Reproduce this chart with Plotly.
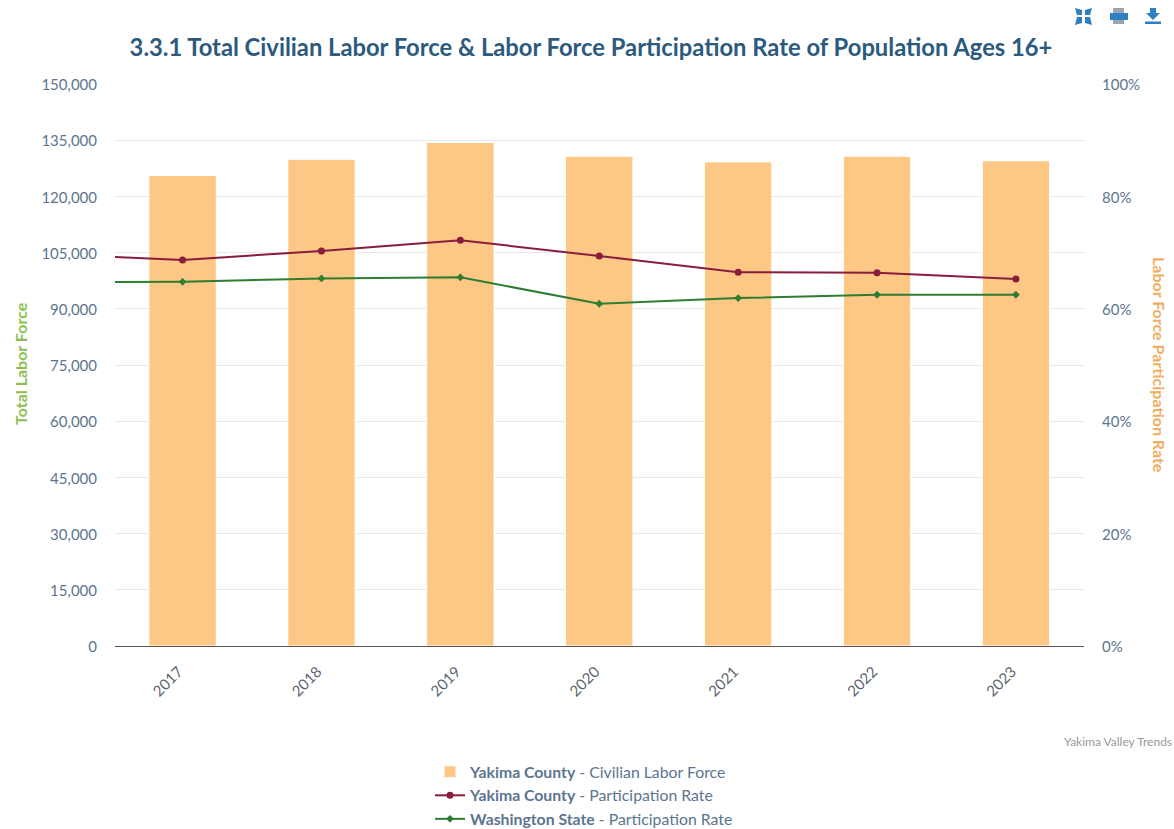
import plotly.graph_objects as go

years = [2017, 2018, 2019, 2020, 2021, 2022, 2023]
labor_force = [125600, 129900, 134400, 130700, 129200, 130700, 129500]
rate_years = [2016, 2017, 2018, 2019, 2020, 2021, 2022, 2023]
yakima_rate = [69.8, 68.7, 70.3, 72.2, 69.4, 66.5, 66.4, 65.3]
wa_rate = [64.7, 64.8, 65.4, 65.6, 60.9, 61.9, 62.5, 62.5]
left_ticks = list(range(0, 150001, 15000))
right_ticks = [0, 20, 40, 60, 80, 100]
right_labels = ["0%", "20%", "40%", "60%", "80%", "100%"]

FONT = "Lato"
TXT = "#5b7590"
W, H = 1174, 829
L, R, T, B = 115, 1084, 84, 646


def px(x):
    return (x - L) / (R - L)


def py(y):
    return (B - y) / (B - T)


fig = go.Figure()
fig.add_trace(go.Bar(
    x=years, y=labor_force, width=0.485, yaxis="y",
    marker=dict(color="#fdc785", line=dict(color="#ffffff", width=1)),
    name="<b>Yakima County</b> - Civilian Labor Force",
))
fig.add_trace(go.Scatter(
    x=rate_years, y=yakima_rate, yaxis="y2", mode="lines+markers",
    line=dict(color="#8a1c3c", width=2),
    marker=dict(symbol="circle", size=7, color="#8a1c3c"),
    name="<b>Yakima County</b> - Participation Rate",
))
fig.add_trace(go.Scatter(
    x=rate_years, y=wa_rate, yaxis="y2", mode="lines+markers",
    line=dict(color="#2e7d32", width=2),
    marker=dict(symbol="diamond", size=6, color="#2e7d32"),
    name="<b>Washington State</b> - Participation Rate",
))

icon = "#2f7fc1"
shapes = []
# download icon
shapes.append(dict(type="path", xref="paper", yref="paper",
    path=f"M {px(1150)} {py(8)} L {px(1156)} {py(8)} L {px(1156)} {py(13)} L {px(1160)} {py(13)} "
         f"L {px(1153)} {py(20)} L {px(1146)} {py(13)} L {px(1150)} {py(13)} Z",
    fillcolor=icon, line=dict(width=0)))
shapes.append(dict(type="rect", xref="paper", yref="paper", x0=px(1145), x1=px(1161), y0=py(21.5), y1=py(24),
    fillcolor=icon, line=dict(width=0)))
# print icon
shapes.append(dict(type="rect", xref="paper", yref="paper", x0=px(1113), x1=px(1124), y0=py(8), y1=py(13),
    fillcolor="#9aa5ad", line=dict(width=0)))
shapes.append(dict(type="rect", xref="paper", yref="paper", x0=px(1110), x1=px(1128), y0=py(13), y1=py(20),
    fillcolor=icon, line=dict(width=0)))
shapes.append(dict(type="rect", xref="paper", yref="paper", x0=px(1113), x1=px(1124), y0=py(20), y1=py(24),
    fillcolor="#9aa5ad", line=dict(width=0)))
# expand icon
for pts in [[(1075, 8), (1082, 10), (1082, 15), (1077, 15)],
            [(1092, 8), (1085, 10), (1085, 15), (1090, 15)],
            [(1075, 25), (1082, 23), (1082, 17), (1077, 17)],
            [(1092, 25), (1085, 23), (1085, 17), (1090, 17)]]:
    path = "M " + " L ".join(f"{px(a)} {py(b)}" for a, b in pts) + " Z"
    shapes.append(dict(type="path", xref="paper", yref="paper", path=path,
                       fillcolor=icon, line=dict(width=0)))

fig.update_layout(
    width=W, height=H, autosize=False,
    paper_bgcolor="white", plot_bgcolor="white",
    margin=dict(l=L, r=W - R, t=T, b=H - B, pad=0, autoexpand=False),
    font=dict(family=FONT, color=TXT, size=15),
    showlegend=True,
    title=dict(text="<b>3.3.1 Total Civilian Labor Force & Labor Force Participation Rate of Population Ages 16+</b>",
               font=dict(family=FONT, size=23.75, color="#2b5a7e"),
               x=(130 + 1052) / 2 / W, xanchor="center", y=1 - 48 / H, yanchor="middle"),
    xaxis=dict(range=[2016.5135, 2023.49], tickmode="array", tickvals=years,
               ticktext=[str(y) for y in years], tickangle=-45, showgrid=False,
               showline=True, linecolor="#555555", linewidth=1, ticks="", zeroline=False,
               ticklabelstandoff=10, ticklabelshift=-4,
               tickfont=dict(family=FONT, size=15, color="#5a6470")),
    yaxis=dict(range=[0, 150000], tickmode="array", tickvals=left_ticks,
               tickformat=",d", gridcolor="#e8e8e8", gridwidth=1, zeroline=False,
               showline=False, ticks="outside", ticklen=14, tickcolor="rgba(0,0,0,0)",
               ticklabelshift=1,
               tickfont=dict(family=FONT, size=15, color=TXT), automargin=False),
    yaxis2=dict(range=[0, 100], overlaying="y", side="right", tickmode="array",
                tickvals=right_ticks, ticktext=right_labels, showgrid=False, zeroline=False,
                showline=False, ticks="outside", ticklen=14, tickcolor="rgba(0,0,0,0)",
                ticklabelshift=1,
                tickfont=dict(family=FONT, size=15, color=TXT), automargin=False),
    legend=dict(orientation="v", x=px(430), y=py(755), xanchor="left", yanchor="top",
                font=dict(family=FONT, size=15.8, color=TXT), bgcolor="rgba(0,0,0,0)",
                itemwidth=30, tracegroupgap=0, traceorder="normal"),
    annotations=[
        dict(text="Yakima Valley Trends", xref="paper", yref="paper",
             x=px(1174), y=py(742), xanchor="right", yanchor="middle", showarrow=False,
             font=dict(family=FONT, size=12, color="#999999")),
        dict(text="<b>Total Labor Force</b>", xref="paper", yref="paper",
             x=px(20), y=py(364), xanchor="center", yanchor="middle", showarrow=False, textangle=-90,
             font=dict(family=FONT, size=16, color="#8cc152")),
        dict(text="<b>Labor Force Participation Rate</b>", xref="paper", yref="paper",
             x=px(1160), y=py(365), xanchor="center", yanchor="middle", showarrow=False, textangle=90,
             font=dict(family=FONT, size=16, color="#f0ae62")),
    ],
    shapes=shapes,
)

fig.write_html("out.html", config=dict(displayModeBar=False),
               post_script="document.body.style.margin='0';")
